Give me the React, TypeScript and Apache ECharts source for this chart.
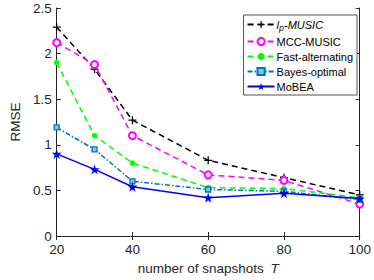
import React, { useEffect, useRef } from "react";
import * as echarts from "echarts";

const snapshots = [20, 30, 40, 60, 80, 100];
const lpMusic = [2.29, 1.83, 1.27, 0.83, 0.64, 0.45];
const mccMusic = [2.12, 1.88, 1.1, 0.67, 0.61, 0.35];
const fastAlt = [1.9, 1.1, 0.8, 0.53, 0.52, 0.42];
const bayesOpt = [1.19, 0.95, 0.6, 0.51, 0.49, 0.4];
const mobea = [0.9, 0.73, 0.54, 0.42, 0.47, 0.41];
const seriesNames = ["lp-MUSIC", "MCC-MUSIC", "Fast-alternating", "Bayes-optimal", "MoBEA"];
const xTicks = { min: 20, max: 100, interval: 20 };
const yTicks = { min: 0, max: 2.5, interval: 0.5 };

const plusPath = "path://M4.2,0H5.8V4.2H10V5.8H5.8V10H4.2V5.8H0V4.2H4.2Z";
const starPath =
  "path://M50,0L61.8,35.1L98.9,35.1L68.9,56.9L80.3,91.9L50,70.3L19.7,91.9L31.1,56.9L1.1,35.1L38.2,35.1Z";

const font = "'Liberation Sans', Arial, Helvetica, sans-serif";
const axisColor = "#262626";
const axisFont = 13.5;
const legendFont = 11;

export default function App() {
  const ref = useRef<HTMLDivElement>(null);
  useEffect(() => {
    if (!ref.current) return;
    const chart = echarts.init(ref.current, undefined, { renderer: "svg" });
    const mk = (vals: number[]) => snapshots.map((x, i) => [x, vals[i]]);
    const axisBase = {
      type: "value" as const,
      axisLine: { show: true, lineStyle: { color: axisColor, width: 1 } },
      axisTick: { show: true, inside: true, length: 4, lineStyle: { color: axisColor } },
      splitLine: { show: false },
    };
    chart.setOption({
      animation: false,
      textStyle: { fontFamily: font },
      grid: { left: 41, right: 11, top: 8, bottom: 39, containLabel: false },
      xAxis: [
        {
          ...axisBase,
          position: "bottom",
          ...xTicks,
          axisLabel: { color: axisColor, fontSize: axisFont, margin: 6, fontFamily: font },
          name: "{a|number of snapshots}  {b|T}",
          nameLocation: "middle",
          nameGap: 25,
          nameTextStyle: {
            rich: {
              a: { fontSize: axisFont, color: axisColor, fontFamily: font },
              b: { fontSize: axisFont, color: axisColor, fontFamily: font, fontStyle: "italic" },
            },
          },
        },
        { ...axisBase, position: "top", ...xTicks, axisLabel: { show: false } },
      ],
      yAxis: [
        {
          ...axisBase,
          position: "left",
          ...yTicks,
          axisLabel: { color: axisColor, fontSize: axisFont, margin: 5, fontFamily: font },
          name: "RMSE",
          nameLocation: "middle",
          nameGap: 25,
          nameTextStyle: { fontSize: axisFont, color: axisColor, fontFamily: font },
        },
        { ...axisBase, position: "right", ...yTicks, axisLabel: { show: false } },
      ],
      legend: {
        orient: "vertical",
        right: 17,
        top: 15,
        padding: [4, 4, 3, 3],
        itemGap: 4,
        itemWidth: 27,
        itemHeight: 9,
        borderColor: axisColor,
        borderWidth: 0.8,
        backgroundColor: "#fff",
        textStyle: {
          fontSize: legendFont,
          color: "#000",
          fontFamily: font,
          padding: [0, 0, 0, -3],
          rich: {
            i: { fontStyle: "italic", fontSize: legendFont, color: "#000", fontFamily: font },
            s: {
              fontStyle: "italic",
              fontSize: 9,
              color: "#000",
              fontFamily: font,
              verticalAlign: "bottom",
              padding: [6, 0, 0, 0],
            },
          },
        },
        formatter: (name: string) =>
          name === seriesNames[0] ? "{i|l}{s|p}{i|-MUSIC}" : name,
        data: seriesNames,
      },
      series: [
        {
          name: seriesNames[0],
          type: "line",
          data: mk(lpMusic),
          symbol: plusPath,
          symbolSize: 8,
          itemStyle: { color: "#000" },
          lineStyle: { color: "#000", type: [6, 4], width: 1.5 },
        },
        {
          name: seriesNames[1],
          type: "line",
          data: mk(mccMusic),
          symbol: "emptyCircle",
          symbolSize: 7,
          itemStyle: { color: "#FF00FF", borderWidth: 1.5 },
          lineStyle: { color: "#FF00FF", type: [6, 4], width: 1.5 },
        },
        {
          name: seriesNames[2],
          type: "line",
          data: mk(fastAlt),
          symbol: "circle",
          symbolSize: 5.5,
          itemStyle: { color: "#00FF00" },
          lineStyle: { color: "#00FF00", type: [6, 4], width: 1.5 },
        },
        {
          name: seriesNames[3],
          type: "line",
          data: mk(bayesOpt),
          symbol: "rect",
          symbolSize: 5,
          itemStyle: { color: "#8fc0e4", borderColor: "#0072BD", borderWidth: 1.3 },
          lineStyle: { color: "#0072BD", type: [5, 2, 1.5, 2], width: 1.5 },
        },
        {
          name: seriesNames[4],
          type: "line",
          data: mk(mobea),
          symbol: starPath,
          symbolSize: 10,
          itemStyle: { color: "#0000FF" },
          lineStyle: { color: "#0000FF", width: 1.5 },
          z: 5,
        },
      ],
    });
    return () => chart.dispose();
  }, []);
  return (
    <div
      ref={ref}
      style={{ width: 374, height: 280, position: "absolute", left: 0, top: 0 }}
    />
  );
}
